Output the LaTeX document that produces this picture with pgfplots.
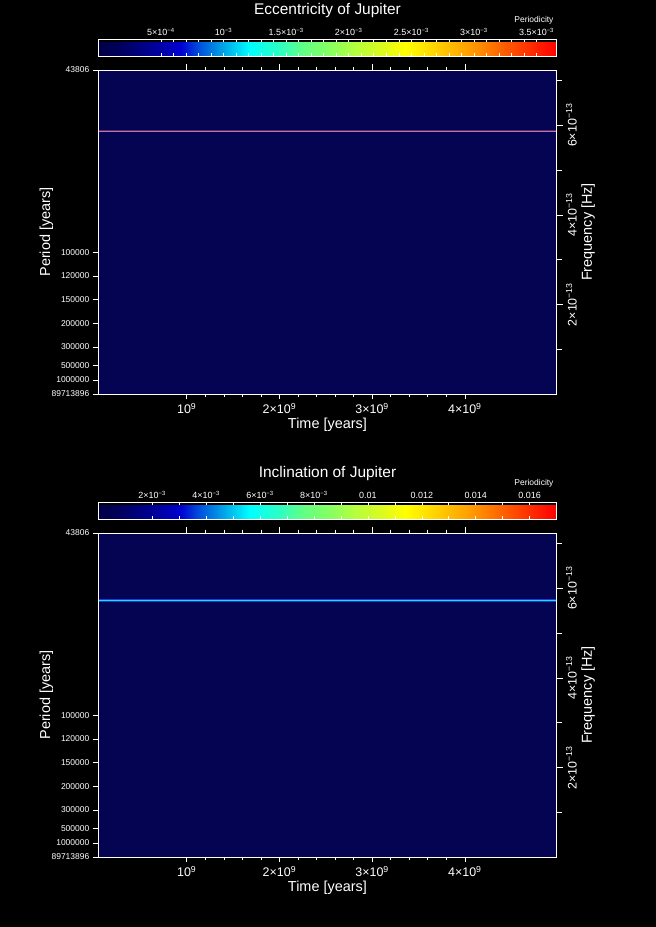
\documentclass[border=0pt]{standalone}
\usepackage{pgfplots}
\pgfplotsset{compat=1.18}
\usepackage{fontspec}
\setmainfont{Liberation Sans}

\definecolor{bgnavy}{RGB}{4,4,82}
\definecolor{ecccore}{RGB}{235,110,85}
\definecolor{eccglow}{RGB}{40,50,190}
\definecolor{inccore}{RGB}{20,225,255}
\definecolor{incglow}{RGB}{30,60,200}

\pgfplotsset{
  colormap={idl}{rgb255(0)=(0,0,70) rgb255(5)=(0,0,95) rgb255(13)=(0,0,160)
    rgb255(18)=(0,0,210) rgb255(22)=(0,80,220) rgb255(27)=(0,160,230)
    rgb255(33)=(0,255,255) rgb255(39)=(40,255,200) rgb255(45)=(100,255,130)
    rgb255(50)=(130,255,100) rgb255(56)=(180,255,60) rgb255(62)=(220,250,30)
    rgb255(67)=(255,255,0) rgb255(75)=(255,200,0) rgb255(82)=(255,150,0)
    rgb255(89)=(255,90,0) rgb255(96)=(255,30,0) rgb255(100)=(255,0,0)},
  panel/.style={
    scale only axis, width=458.3bp, height=324bp, anchor=south west,
    xmin=4.6e7, xmax=4.99e9, ymin=3.5322e-16, ymax=7.2337e-13,
    axis on top,
    axis line style={white, line width=0.6pt},
    tick style={white, line width=0.6pt},
    tick align=outside, major tick length=5.5bp, minor tick length=3bp,
    scaled ticks=false,
    xtick={1e9,2e9,3e9,4e9},
    xticklabels={10\textsuperscript{9}, 2×10\textsuperscript{9}, 3×10\textsuperscript{9}, 4×10\textsuperscript{9}},
    minor x tick num=4, xtick pos=both, xticklabel pos=lower,
    ytick={3.5322e-16,3.1688e-14,6.3376e-14,1.0563e-13,1.5844e-13,2.1126e-13,2.6408e-13,3.1689e-13,7.2337e-13},
    yticklabels={89713896,1000000,500000,300000,200000,150000,120000,100000,43806},
    ytick pos=left,
    xticklabel style={font=\fontsize{12.5}{13}\selectfont, text=white},
    yticklabel style={font=\fontsize{8.5}{9}\selectfont, text=white},
    xlabel={Time [years]}, ylabel={Period [years]},
    label style={font=\fontsize{14.5}{16}\selectfont, text=white},
    xlabel style={at={(axis description cs:0.5,0)}, anchor=center, yshift=-31bp},
    ylabel style={at={(axis description cs:0,0.5)}, anchor=center, yshift=52bp},
    colorbar horizontal, colormap name=idl, point meta min=0,
    colorbar style={
      at={(parent axis.north west)}, anchor=south west, yshift=22bp,
      scale only axis, width=458.3bp, height=17bp,
      axis line style={white, line width=0.6pt},
      tick style={white, line width=0.6pt},
      tick align=inside, major tick length=3bp, minor tick length=3bp,
      xtick pos=both, xticklabel pos=upper,
      scaled ticks=false,
      xticklabel style={font=\fontsize{9}{10}\selectfont, text=white},
    },
  },
  freq/.style={
    scale only axis, width=458.3bp, height=324bp, anchor=south west,
    xmin=4.6e7, xmax=4.99e9, ymin=3.5322e-16, ymax=7.2337e-13,
    axis x line=none, axis y line*=right,
    axis line style={white, line width=0.6pt},
    tick style={white, line width=0.6pt},
    tick align=outside, major tick length=6bp, minor tick length=5bp,
    scaled ticks=false,
    ytick={2e-13,4e-13,6e-13},
    yticklabels={2×10\textsuperscript{−13}, 4×10\textsuperscript{−13}, 6×10\textsuperscript{−13}},
    minor ytick={1e-13,3e-13,5e-13,7e-13},
    yticklabel style={rotate=90, anchor=north, font=\fontsize{12.5}{13}\selectfont, text=white},
    ylabel={Frequency [Hz]},
    ylabel style={at={(axis description cs:1,0.5)}, anchor=center, yshift=-31.5bp,
      font=\fontsize{14.5}{16}\selectfont, text=white},
  },
}

\begin{document}
\begin{tikzpicture}[x=1bp, y=1bp, color=white]
\path[use as bounding box, fill=black] (0,0) rectangle (656,927);

% Eccentricity
\begin{axis}[panel, at={(98.3bp,533bp)},
  point meta max=3.66e-3,
  colorbar style={
    xtick={5e-4,1e-3,1.5e-3,2e-3,2.5e-3,3e-3,3.5e-3},
    xticklabels={5×10\textsuperscript{−4}, 10\textsuperscript{−3}, 1.5×10\textsuperscript{−3}, 2×10\textsuperscript{−3}, 2.5×10\textsuperscript{−3}, 3×10\textsuperscript{−3}, 3.5×10\textsuperscript{−3}},
    minor x tick num=4,
  }]
\addplot[draw=none, fill=bgnavy] coordinates {(4.6e7,3.5322e-16) (4.99e9,3.5322e-16) (4.99e9,7.2337e-13) (4.6e7,7.2337e-13)} --cycle;
\addplot[eccglow, line width=2.6bp] coordinates {(4.6e7,5.872e-13) (4.99e9,5.872e-13)};
\addplot[ecccore, line width=0.9bp] coordinates {(4.6e7,5.872e-13) (4.99e9,5.872e-13)};
\end{axis}
\begin{axis}[freq, at={(98.3bp,533bp)}]
\addplot[draw=none] coordinates {(1e9,1e-13)};
\end{axis}
\node[font=\fontsize{15.5}{17}\selectfont, text=white] at (327.5,916.5) {Eccentricity of Jupiter};
\node[anchor=east, font=\fontsize{8.5}{9}\selectfont, text=white] at (557,907) {Periodicity};

% Inclination
\begin{axis}[panel, at={(98.3bp,70bp)},
  point meta max=0.017,
  colorbar style={
    xtick={0.002,0.004,0.006,0.008,0.01,0.012,0.014,0.016},
    xticklabels={2×10\textsuperscript{−3}, 4×10\textsuperscript{−3}, 6×10\textsuperscript{−3}, 8×10\textsuperscript{−3}, 0.01, 0.012, 0.014, 0.016},
    minor x tick num=1,
  }]
\addplot[draw=none, fill=bgnavy] coordinates {(4.6e7,3.5322e-16) (4.99e9,3.5322e-16) (4.99e9,7.2337e-13) (4.6e7,7.2337e-13)} --cycle;
\addplot[incglow, line width=2.6bp] coordinates {(4.6e7,5.723e-13) (4.99e9,5.723e-13)};
\addplot[inccore, line width=0.9bp] coordinates {(4.6e7,5.723e-13) (4.99e9,5.723e-13)};
\end{axis}
\begin{axis}[freq, at={(98.3bp,70bp)}]
\addplot[draw=none] coordinates {(1e9,1e-13)};
\end{axis}
\node[font=\fontsize{15.5}{17}\selectfont, text=white] at (327.5,453.5) {Inclination of Jupiter};
\node[anchor=east, font=\fontsize{8.5}{9}\selectfont, text=white] at (557,444) {Periodicity};
\end{tikzpicture}
\end{document}
